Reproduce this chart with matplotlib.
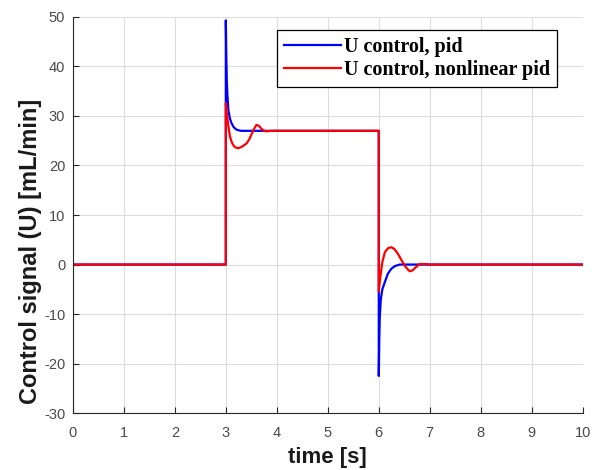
import matplotlib
matplotlib.use("Agg")
import matplotlib.pyplot as plt

plt.rcParams['axes.unicode_minus'] = False

# U control, pid (time [s], value [mL/min])
t_pid = [0, 3, 3, 3.01, 3.02, 3.03, 3.05, 3.08, 3.11, 3.15, 3.2, 3.25, 3.3, 3.5,
         6, 6, 6.01, 6.02, 6.04, 6.07, 6.12, 6.18, 6.25, 6.32, 6.41, 7, 10]
u_pid = [0, 0, 49.3, 42, 37, 34.5, 31.2, 29.5, 28.6, 27.8, 27.3, 27.1, 27.0, 27.0,
         27.0, -22.5, -15, -10.5, -7, -5, -3.5, -1.8, -0.8, -0.3, 0, 0, 0]

# U control, nonlinear pid
t_nl = [0, 3, 3, 3.02, 3.05, 3.08, 3.12, 3.16, 3.2, 3.24, 3.3, 3.36, 3.41, 3.46,
        3.5, 3.55, 3.6, 3.65, 3.7, 3.75, 3.8, 3.9, 4.0,
        6, 6, 6.03, 6.07, 6.12, 6.18, 6.25, 6.31, 6.38, 6.45, 6.52, 6.58, 6.61,
        6.66, 6.72, 6.8, 6.9, 7.0, 10]
u_nl = [0, 0, 32.6, 30.5, 28.0, 25.9, 24.6, 23.9, 23.6, 23.5, 23.7, 24.1, 24.5, 25.3,
        26.2, 27.3, 28.2, 28.0, 27.4, 27.0, 26.9, 27.0, 27.0,
        27.0, -5.4, -2.5, 0.5, 2.5, 3.3, 3.5, 3.1, 2.1, 0.8, -0.4, -1.1, -1.35,
        -1.2, -0.6, 0.1, 0.1, 0, 0]

fig = plt.figure(figsize=(6.02, 4.70), dpi=100)
ax = fig.add_axes([0.121, 0.121, 0.847, 0.843])

ax.plot(t_pid, u_pid, color='#0000ff', lw=1.6, label='U control, pid')
ax.plot(t_nl, u_nl, color='#ff0000', lw=1.6, label='U control, nonlinear pid')

ax.set_xlim(0, 10)
ax.set_ylim(-30, 50)
ax.set_xticks(range(0, 11))
ax.set_yticks(range(-30, 51, 10))
ax.grid(True, color='#dcdcdc', lw=0.8)
ax.set_axisbelow(True)

for s in ['top', 'right']:
    ax.spines[s].set_visible(False)
for s in ['left', 'bottom']:
    ax.spines[s].set_color('#262626')
    ax.spines[s].set_linewidth(0.8)
ax.tick_params(direction='in', length=4, width=0.8, colors='#262626',
               labelcolor='#4a4a4a', labelsize=10.5)
ax.tick_params(axis='x', pad=9)
ax.tick_params(axis='y', pad=5.5)
for lab in ax.get_xticklabels() + ax.get_yticklabels():
    lab.set_family('Liberation Sans')

ax.set_xlabel('time [s]', fontsize=16, fontweight='bold', family='Liberation Sans',
              color='#1a1a1a')
ax.xaxis.set_label_coords(0.5, -0.085)
ax.set_ylabel('Control signal (U) [mL/min]', fontsize=17, fontweight='bold',
              family='Liberation Sans', color='#1a1a1a')
ax.yaxis.set_label_coords(-0.06, 0.407)

leg = ax.legend(loc='upper right', bbox_to_anchor=(0.949, 0.967),
                prop={'family': 'Liberation Serif', 'weight': 'bold', 'size': 14.5},
                fancybox=False, framealpha=1, edgecolor='black',
                handlelength=2.8, handletextpad=0.15, borderpad=0.35,
                labelspacing=0.15, borderaxespad=0)
leg.get_frame().set_linewidth(0.9)

fig.savefig('out.png', dpi=100)
